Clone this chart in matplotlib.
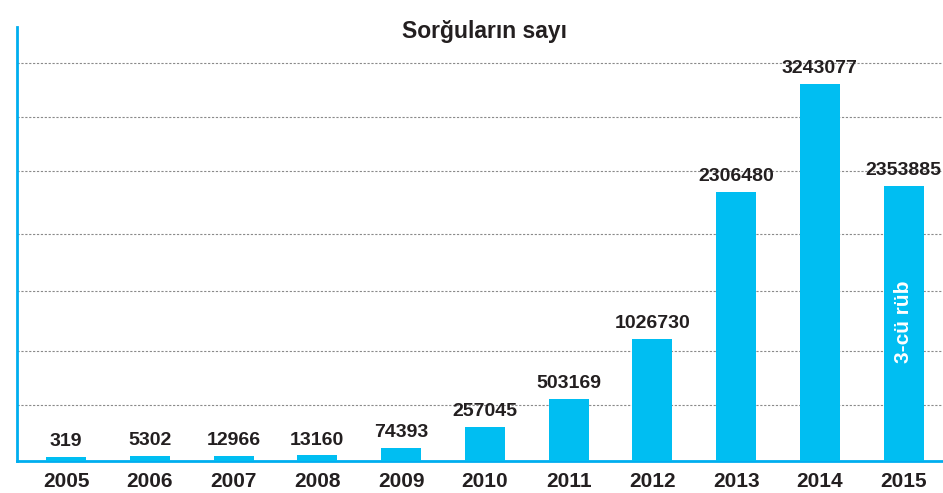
import matplotlib
matplotlib.use("Agg")
import matplotlib.pyplot as plt

years = ["2005", "2006", "2007", "2008", "2009", "2010", "2011", "2012", "2013", "2014", "2015"]
values = [319, 5302, 12966, 13160, 74393, 257045, 503169, 1026730, 2306480, 3243077, 2353885]
title = "Sorğuların sayı"
note = "3-cü rüb"

grid_levels = [452000, 921000, 1443000, 1939000, 2486000, 2956000, 3425000]
ymin, ymax = -34800, 3738000

blue = "#00BEF2"
plt.rcParams['font.family'] = ['Liberation Sans', 'DejaVu Sans']

fig = plt.figure(figsize=(9.43, 4.93), dpi=100)
ax = fig.add_axes([17/943, 32/493, 1 - 17/943, 434/493])

x = list(range(len(years)))
heights = [v - ymin for v in values]
ax.bar(x, heights, bottom=ymin, width=0.477, color=blue, zorder=3)

for xi, v in zip(x, values):
    ax.annotate(str(v), (xi, v), xytext=(0, 5), textcoords="offset points",
                ha="center", va="bottom", fontsize=14, fontweight="bold",
                color="#231f20", zorder=4)

ax.text(x[-1], values[-1] * 0.5, note, rotation=90, ha="center", va="center",
        color="white", fontsize=15, fontweight="bold", zorder=5)

ax.set_xlim(-0.585, 10.47)
ax.set_ylim(ymin, ymax)
ax.set_yticks(grid_levels)
ax.set_yticklabels([])
ax.tick_params(axis="y", length=0)
ax.yaxis.grid(True, color="#8a8a8a", linestyle=(0, (2, 1.5)), linewidth=0.8)
ax.set_axisbelow(True)

ax.set_xticks(x)
ax.set_xticklabels(years, fontsize=15, fontweight="bold", color="#231f20")
ax.tick_params(axis="x", length=0, pad=8)

for s in ["top", "right"]:
    ax.spines[s].set_visible(False)
for s in ["left", "bottom"]:
    ax.spines[s].set_color("#00AEEF")
    ax.spines[s].set_linewidth(2)

fig.text(0.514, 0.937, title, ha="center", va="center", fontsize=16.5,
         fontweight="bold", color="#231f20")

fig.savefig("out.png", dpi=100)
